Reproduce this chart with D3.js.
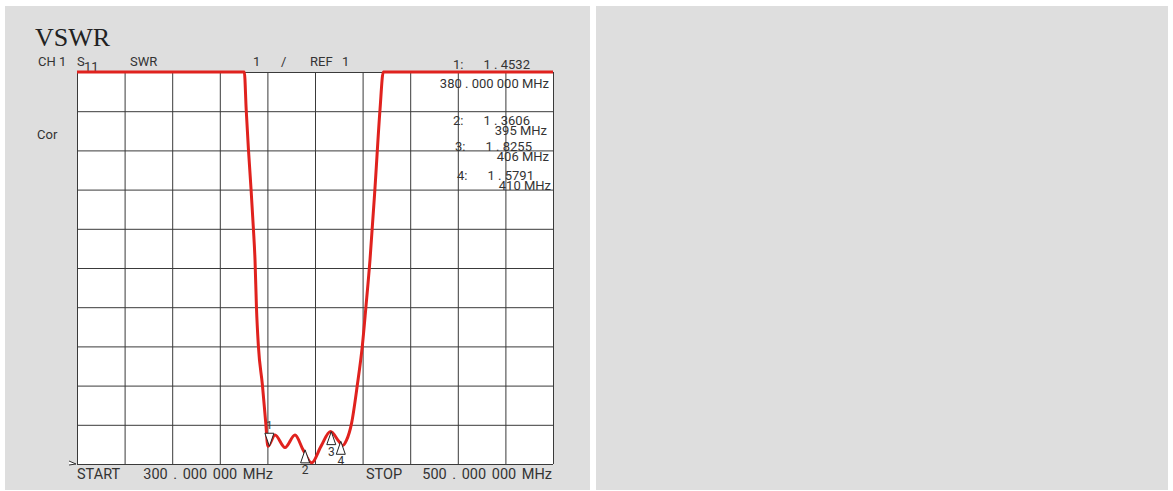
<!DOCTYPE html>
<html>
<head>
<meta charset="utf-8">
<script src="https://cdn.jsdelivr.net/npm/d3@7"></script>
<style>
  body { margin: 0; background: #fff; }
  svg text { font-family: Roboto, "Liberation Sans", sans-serif; fill: #333; }
</style>
</head>
<body>
<svg id="chart" width="1173" height="491"></svg>
<script>
// trace: frequency (MHz) and SWR (11 = clipped at top of screen)
const freqs = [300, 370.3, 371.1, 372.0, 373.1, 374.1, 374.8, 375.4, 376.2, 377.9, 379.3, 380.2,
  383.2, 387.4, 391.6, 395, 398.6, 402.5, 406.5, 410, 411.6,
  413.2, 415.4, 417.8, 419.9, 421.4, 423.1, 425.2, 427.3, 428.7, 500]
const swr = [11, 11, 10.03, 9.06, 8.04, 7.02, 6.2, 5.0, 4.02, 3.02, 2.05, 1.45,
  1.74, 1.42, 1.74, 1.36, 1.03, 1.45, 1.83, 1.58, 1.47,
  1.6, 2.05, 3.02, 4.02, 5.01, 6.2, 8.04, 10.03, 11, 11]

// markers
const markerIds = [1, 2, 3, 4]
const markerFreqs = [380, 395, 406, 410]
const markerValues = [1.4532, 1.3606, 1.8255, 1.5791]

const startFreq = 300, stopFreq = 500
const refValue = 1, perDiv = 1, divisions = 10

const svg = d3.select('#chart')

// panels
svg.append('rect').attr('x', 5).attr('y', 6).attr('width', 585).attr('height', 484).attr('fill', '#dedede')
svg.append('rect').attr('x', 596).attr('y', 6).attr('width', 572).attr('height', 484).attr('fill', '#dedede')

const pLeft = 77, pTop = 72, pRight = 553, pBottom = 464

const xScale = d3.scaleLinear().domain([startFreq, stopFreq]).range([pLeft, pRight])
const yScale = d3.scaleLinear().domain([refValue, refValue + perDiv * divisions]).range([pBottom, pTop])

svg.append('rect').attr('x', pLeft).attr('y', pTop).attr('width', pRight - pLeft).attr('height', pBottom - pTop).attr('fill', '#fff')

// grid
const gx = svg.append('g').attr('transform', 'translate(0,' + pBottom + ')')
  .call(d3.axisBottom(xScale).ticks(divisions).tickSize(-(pBottom - pTop)).tickFormat(''))
const gy = svg.append('g').attr('transform', 'translate(' + pLeft + ',0)')
  .call(d3.axisLeft(yScale).tickValues(d3.range(0, divisions + 1).map(i => refValue + i * perDiv)).tickSize(-(pRight - pLeft)).tickFormat(''))
gx.select('.domain').remove()
gy.select('.domain').remove()
svg.selectAll('.tick line').attr('stroke', '#3a3a3a').attr('stroke-width', 1)

// title and header
svg.append('text').attr('x', 35).attr('y', 46).text('VSWR')
  .style('font-family', '"Liberation Serif", "DejaVu Serif", serif').style('font-size', '26px').style('fill', '#222')

const hdr = svg.append('g').style('font-size', '13px')
hdr.append('text').attr('x', 38).attr('y', 66).text('CH 1')
hdr.append('text').attr('x', 77).attr('y', 66).text('S')
hdr.append('text').attr('x', 84).attr('y', 71).text('11')
hdr.append('text').attr('x', 130).attr('y', 66).text('SWR')
hdr.append('text').attr('x', 253).attr('y', 66).text(perDiv)
hdr.append('text').attr('x', 281).attr('y', 66).text('/')
hdr.append('text').attr('x', 310).attr('y', 66).text('REF')
hdr.append('text').attr('x', 342).attr('y', 66).text(refValue)
hdr.append('text').attr('x', 37).attr('y', 139).text('Cor')

// start / stop
const fmtHz = f => d3.format('.6f')(f).replace('.', ' . ').replace(/(\d{3})(\d{3})$/, '$1 $2') + ' MHz'
const foot = svg.append('g').style('font-size', '14.5px').style('word-spacing', '2px')
foot.append('text').attr('x', 77).attr('y', 479).text('START')
foot.append('text').attr('x', 273).attr('y', 479).attr('text-anchor', 'end').text(fmtHz(startFreq))
foot.append('text').attr('x', 366).attr('y', 479).text('STOP')
foot.append('text').attr('x', 552).attr('y', 479).attr('text-anchor', 'end').text(fmtHz(stopFreq))

// reference position marker
svg.append('path').attr('d', d3.line()([[69, yScale(refValue) - 3], [76, yScale(refValue)], [69, yScale(refValue) + 1]]))
  .attr('fill', '#fff').attr('stroke', '#333').attr('stroke-width', 1)

// marker readout
const fmtVal = v => d3.format('.4f')(v).replace('.', ' . ')
const readBase = [69, 125, 151, 180]
markerIds.forEach(function (id, i) {
  const dx = i === 0 ? 0 : (i - 1) * 2
  const g = svg.append('g').style('font-size', '13px')
  g.append('text').attr('x', 453 + dx).attr('y', readBase[i]).text(id + ':')
  g.append('text').attr('x', 530 + dx).attr('y', readBase[i]).attr('text-anchor', 'end').text(fmtVal(markerValues[i]))
  if (i === 0) {
    g.append('text').attr('x', 549).attr('y', readBase[i] + 19).attr('text-anchor', 'end').text(fmtHz(markerFreqs[i]))
  } else {
    g.append('text').attr('x', 547 + dx).attr('y', readBase[i] + 10).attr('text-anchor', 'end').text(markerFreqs[i] + ' MHz')
  }
})

// trace
const clipId = 'plot-clip'
svg.append('clipPath').attr('id', clipId).append('rect')
  .attr('x', pLeft - 2).attr('y', pTop - 2).attr('width', pRight - pLeft + 4).attr('height', pBottom - pTop + 4)

svg.append('path')
  .datum(freqs.map((f, i) => [f, swr[i]]))
  .attr('clip-path', 'url(#' + clipId + ')')
  .attr('d', d3.line().x(d => xScale(d[0])).y(d => yScale(d[1])).curve(d3.curveMonotoneX))
  .attr('fill', 'none')
  .attr('stroke', '#e0221e')
  .attr('stroke-width', 3)

// marker triangles
const mOff = 2
markerIds.forEach(function (id, i) {
  const mx = xScale(markerFreqs[i]) + mOff
  const my = yScale(markerValues[i])
  const g = svg.append('g')
  if (i === 0) {
    g.append('path').attr('d', d3.line()([[mx, my], [mx - 4.5, my - 13], [mx + 4.5, my - 13], [mx, my]]))
      .attr('fill', '#fff').attr('stroke', '#222').attr('stroke-width', 1)
    g.append('text').attr('x', mx).attr('y', my - 17).attr('text-anchor', 'middle').style('font-size', '11px').text(id)
  } else {
    g.append('path').attr('d', d3.line()([[mx, my], [mx - 4.5, my + 13], [mx + 4.5, my + 13], [mx, my]]))
      .attr('fill', '#fff').attr('stroke', '#222').attr('stroke-width', 1)
    g.append('text').attr('x', mx).attr('y', my + 24).attr('text-anchor', 'middle').style('font-size', '12px').text(id)
  }
})
</script>
</body>
</html>
